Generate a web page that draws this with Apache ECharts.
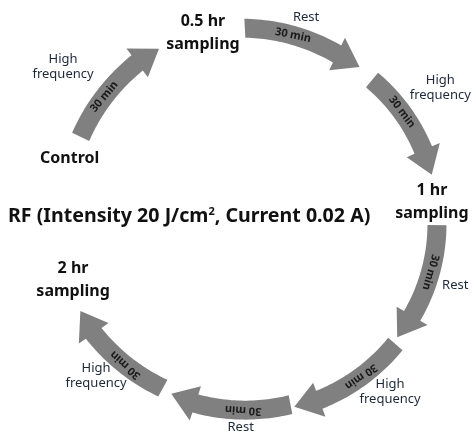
<!DOCTYPE html>
<html>
<head>
<meta charset="utf-8">
<script src="https://cdn.jsdelivr.net/npm/echarts@6/dist/echarts.min.js"></script>
<style>
html, body {margin: 0; padding: 0; background: #fff;}
#main {width: 472px; height: 434px;}
</style>
</head>
<body>
<div id="main"></div>
<script>
// sampling points around the cycle
var stages = ['Control', '0.5 hr\nsampling', '1 hr\nsampling', '2 hr\nsampling'];
// the 30 min steps between them
var phases = ['High\nfrequency', 'Rest', 'High\nfrequency', 'Rest', 'High\nfrequency', 'Rest', 'High\nfrequency'];
var durations = ['30 min', '30 min', '30 min', '30 min', '30 min', '30 min', '30 min'];
var titleText = 'RF (Intensity 20 J/cm{sup|2}, Current 0.02 A)';

// layout on the ring: angle = degrees clockwise from 12 o'clock, radius in px
var arrowFrom = [-64, -3, 39.5, 91, 131, 169, 209];
var arrowTo = [-29, 34, 75, 129, 168, 206, 243];
var radiusFrom = [194, 194, 184, 182, 186, 186, 190];
var radiusTo = [198, 187, 183, 183, 189, 191, 196];
var phaseAngle = [-51, 14, 54, 107.5, 141.5, 184, 226];
var phaseRadius = [247, 211, 229, 210, 217, 205.5, 221];
var stageAngle = [-71, -15.4, 83.6, 252.3];
var stageRadius = [196, 196, 178, 191];

var font = '"Noto Sans", "Open Sans", sans-serif';
var chart = echarts.init(document.getElementById('main'));

function renderArrow(params, api) {
    var r0 = api.value(0), a0 = api.value(1), r1 = api.value(2), a1 = api.value(3);
    var shaft = 9.5, head = 18, headLen = 26;
    var aBase = a1 - headLen / r1 * 180 / Math.PI;
    var n = 30, outer = [], inner = [];
    for (var k = 0; k <= n; k++) {
        var t = k / n;
        var a = a0 + (aBase - a0) * t;
        var r = r0 + (r1 - r0) * t;
        outer.push(api.coord([r + shaft, a]));
        inner.push(api.coord([r - shaft, a]));
    }
    var pts = outer.concat([
        api.coord([r1 + head, aBase]),
        api.coord([r1, a1]),
        api.coord([r1 - head, aBase])
    ], inner.reverse());

    // "30 min" sits in the middle of the shaft, turned along the arrow
    var aT = (a0 + aBase) / 2;
    var rT = r0 + (r1 - r0) * (aT - a0) / (aBase - a0);
    var p = api.coord([rT, aT]);
    return {
        type: 'group',
        children: [
            {type: 'polygon', shape: {points: pts}, style: {fill: '#808080'}},
            {
                type: 'text', x: p[0], y: p[1], rotation: -aT * Math.PI / 180,
                style: {
                    text: durations[params.dataIndex], fill: '#1a1a1a',
                    font: 'bold 11px ' + font, align: 'center', verticalAlign: 'middle'
                }
            }
        ]
    };
}

function labelRenderer(texts, size, weight, lh, color) {
    return function (params, api) {
        var p = api.coord([api.value(0), api.value(1)]);
        return {
            type: 'text', x: p[0], y: p[1],
            style: {
                text: texts[params.dataIndex], fill: color,
                font: weight + ' ' + size + 'px ' + font, lineHeight: lh,
                align: 'center', verticalAlign: 'middle'
            }
        };
    };
}

var arrowData = arrowFrom.map(function (a, i) {
    return [radiusFrom[i], a, radiusTo[i], arrowTo[i]];
});
var phaseData = phases.map(function (s, i) { return [phaseRadius[i], phaseAngle[i]]; });
var stageData = stages.map(function (s, i) { return [stageRadius[i], stageAngle[i]]; });

chart.setOption({
    animation: false,
    title: {
        text: titleText, left: 8, top: 206, padding: 0,
        textStyle: {
            fontFamily: font, fontSize: 19.6, fontWeight: 'bold', color: '#111',
            rich: {sup: {fontFamily: font, fontSize: 11, fontWeight: 'bold', color: '#111', verticalAlign: 'top'}}
        }
    },
    polar: {center: [255, 222], radius: 250},
    radiusAxis: {min: 0, max: 250, show: false},
    angleAxis: {min: -90, max: 270, startAngle: 180, clockwise: true, show: false},
    series: [
        {type: 'custom', coordinateSystem: 'polar', silent: true, data: arrowData, renderItem: renderArrow},
        {type: 'custom', coordinateSystem: 'polar', silent: true, data: phaseData,
            renderItem: labelRenderer(phases, 13, 'normal', 15, '#1e2838')},
        {type: 'custom', coordinateSystem: 'polar', silent: true, data: stageData,
            renderItem: labelRenderer(stages, 16, 'bold', 23, '#111')}
    ]
});
</script>
</body>
</html>
